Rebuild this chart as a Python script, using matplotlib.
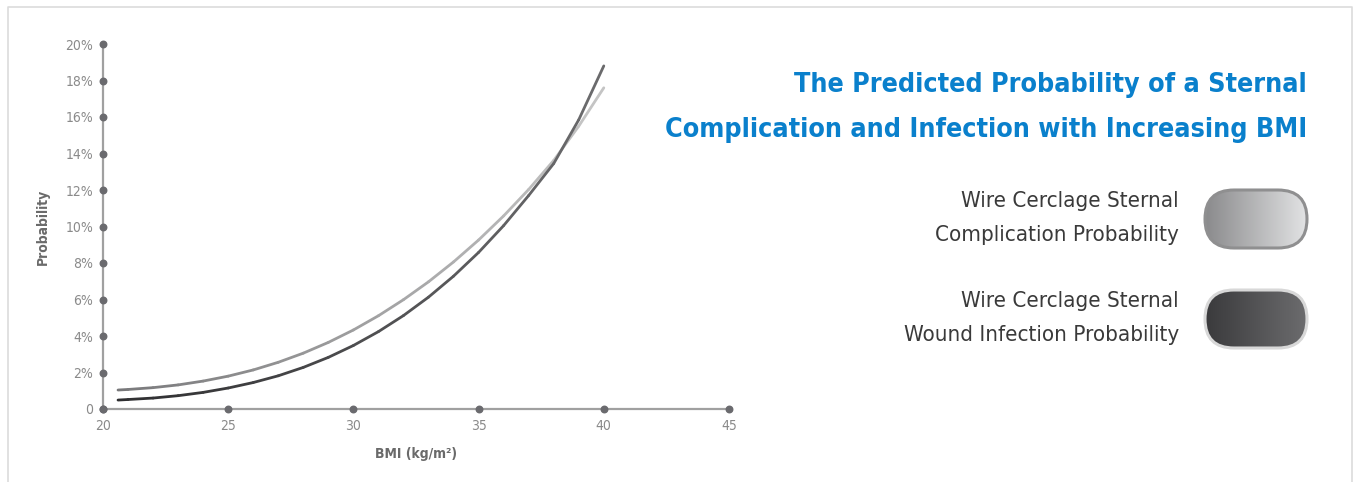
import numpy as np
import matplotlib
matplotlib.use("Agg")
import matplotlib.pyplot as plt
from matplotlib.collections import LineCollection
from matplotlib.patches import FancyBboxPatch
from matplotlib.colors import LinearSegmentedColormap

# Data (BMI vs predicted probability, %)
bmi = [20.6, 21, 22, 23, 24, 25, 26, 27, 28, 29, 30, 31, 32, 33, 34, 35, 36, 37, 38, 39, 40]
complication = [1.04, 1.07, 1.17, 1.32, 1.53, 1.80, 2.14, 2.56, 3.06, 3.65, 4.33,
                5.11, 5.99, 6.97, 8.06, 9.26, 10.58, 12.03, 13.62, 15.50, 17.60]
infection = [0.49, 0.52, 0.60, 0.73, 0.91, 1.15, 1.45, 1.82, 2.28, 2.83, 3.48,
             4.24, 5.12, 6.13, 7.28, 8.58, 10.05, 11.70, 13.45, 15.85, 18.80]

x_ticks = [20, 25, 30, 35, 40, 45]
y_ticks = [0, 2, 4, 6, 8, 10, 12, 14, 16, 18, 20]
y_tick_labels = ["0"] + [f"{v}%" for v in y_ticks[1:]]

title_lines = ["The Predicted Probability of a Sternal",
               "Complication and Infection with Increasing BMI"]
legend_labels = [["Wire Cerclage Sternal", "Complication Probability"],
                 ["Wire Cerclage Sternal", "Wound Infection Probability"]]

W, H = 1353, 482
FAM = ["DejaVu Sans"]
STRETCH = "condensed"

fig = plt.figure(figsize=(W / 100, H / 100), dpi=100)
fig.patch.set_facecolor("white")

# main plot
ax = fig.add_axes([103 / W, 1 - 409 / H, 626 / W, 365 / H])
ax.set_xlim(20, 45)
ax.set_ylim(0, 20)
for s in ["top", "right"]:
    ax.spines[s].set_visible(False)
for s in ["left", "bottom"]:
    ax.spines[s].set_color("#a0a0a0")
    ax.spines[s].set_linewidth(1.6)
ax.tick_params(length=0, pad=7, colors="#8a8a8a", labelsize=10)
ax.set_xticks(x_ticks)
ax.set_yticks(y_ticks)
ax.set_yticklabels(y_tick_labels)
for lab in ax.get_xticklabels() + ax.get_yticklabels():
    lab.set_family(FAM)
    lab.set_stretch(STRETCH)

# dots on the axes at each tick
ax.scatter([20] * len(y_ticks), y_ticks, s=22, color="#6a6a6e", zorder=5, clip_on=False)
ax.scatter(x_ticks, [0] * len(x_ticks), s=22, color="#6a6a6e", zorder=5, clip_on=False)

ax.set_ylabel("Probability", family=FAM, stretch=STRETCH, fontweight="bold",
              color="#6a6a6a", fontsize=10, labelpad=11)
ax.set_xlabel("BMI (kg/m²)", family=FAM, stretch=STRETCH, fontweight="bold",
              color="#6a6a6a", fontsize=10, labelpad=10)


def gradient_line(xs, ys, c0, c1, lw):
    pts = np.column_stack([xs, ys]).reshape(-1, 1, 2)
    segs = np.concatenate([pts[:-1], pts[1:]], axis=1)
    cmap = LinearSegmentedColormap.from_list("g", [c0, c1])
    lc = LineCollection(segs, cmap=cmap, linewidths=lw, capstyle="round",
                        joinstyle="round")
    lc.set_array(np.linspace(0, 1, len(segs)))
    ax.add_collection(lc)


gradient_line(bmi, complication, "#78787a", "#c4c4c4", 2.0)
gradient_line(bmi, infection, "#2e2e30", "#6a6a6c", 2.0)

# frame around the whole picture
ov = fig.add_axes([0, 0, 1, 1], zorder=-1)
ov.set_xlim(0, W)
ov.set_ylim(H, 0)
ov.axis("off")
ov.plot([8, 8, 1352, 1352], [H, 7, 7, H], color="#dcdcdc", lw=1.2)

# title and legend in pixel coordinates
ov2 = fig.add_axes([0, 0, 1, 1])
ov2.set_xlim(0, W)
ov2.set_ylim(H, 0)
ov2.axis("off")

for i, line in enumerate(title_lines):
    ov2.text(1307, 85 + 45 * i, line, ha="right", va="center", color="#0a80cc",
             fontsize=19.3, fontweight="bold", family=FAM, stretch=STRETCH)

pill_styles = [
    (219, "#8a8a8c", "#e2e3e4", "#8f8f90"),
    (319, "#3a3a3c", "#6c6c6e", "#d8d8d8"),
]
for (cy, c0, c1, edge), lines in zip(pill_styles, legend_labels):
    ov2.text(1179, cy - 18, lines[0], ha="right", va="center", color="#3a3a3a",
             fontsize=16, family=FAM, stretch=STRETCH)
    ov2.text(1179, cy + 16, lines[1], ha="right", va="center", color="#3a3a3a",
             fontsize=16, family=FAM, stretch=STRETCH)
    x0, x1, h = 1205, 1307, 58
    patch = FancyBboxPatch((x0, cy - h / 2), x1 - x0, h,
                           boxstyle=f"round,pad=0,rounding_size={h / 2}",
                           facecolor="none", edgecolor=edge, lw=2.2, zorder=3)
    ov2.add_patch(patch)
    grad = np.linspace(0, 1, 256).reshape(1, -1)
    cmap = LinearSegmentedColormap.from_list("p", [c0, c1])
    im = ov2.imshow(grad, cmap=cmap, extent=[x0, x1, cy + h / 2, cy - h / 2],
                    aspect="auto", zorder=2)
    im.set_clip_path(patch)

ov2.set_xlim(0, W)
ov2.set_ylim(H, 0)

fig.savefig("out.png", dpi=100)
